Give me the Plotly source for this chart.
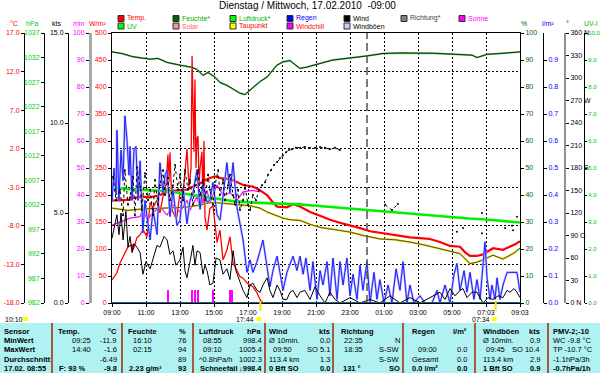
import plotly.graph_objects as go

# ---------------- data (time in hours after 09:00) ----------------
hour_ticks = list(range(0, 25, 2))
hour_labels = ["09:00", "11:00", "13:00", "15:00", "17:00", "19:00", "21:00",
               "23:00", "01:00", "03:00", "05:00", "07:03", "09:03"]

humidity = [(0, 93.0), (0.59, 92.4), (1.24, 91.2), (1.76, 90.6), (2.24, 90.3), (2.7, 90.6),
            (3.24, 89.1), (4.0, 88.1), (4.7, 87.3), (5.0, 86.5), (5.35, 84.3), (5.65, 85.4),
            (6.06, 83.6), (6.35, 81.7), (6.76, 80.6), (7.24, 78.8), (7.53, 77.7), (7.82, 77.2),
            (8.29, 79.6), (8.7, 82.0), (9.12, 83.7), (9.41, 86.0), (9.7, 88.1), (10.06, 89.3),
            (10.47, 89.8), (10.76, 88.3), (11.06, 86.9), (11.47, 87.4), (11.82, 88.1), (12.41, 89.0),
            (13.0, 90.0), (14.0, 90.7), (15.0, 91.5), (15.94, 92.4), (16.94, 92.6), (18.88, 92.5),
            (20.88, 92.0), (21.18, 91.8), (21.47, 90.9), (21.76, 91.5), (22.06, 92.1), (22.82, 92.4),
            (23.41, 92.6), (24.0, 93.0)]

pressure = [(0, 1005.2), (0.5, 1005.4), (1, 1005.2), (2, 1005.0), (3, 1004.8), (4, 1004.4),
            (5, 1003.9), (6, 1003.3), (7, 1002.8), (8, 1002.5), (9, 1002.4), (10, 1002.2),
            (11, 1002.1), (12, 1001.8), (13, 1001.5), (14, 1001.2), (15, 1000.9), (16, 1000.6),
            (17, 1000.4), (18, 1000.0), (19, 999.7), (20, 999.4), (21, 999.2), (22, 999.0),
            (23, 998.7), (24, 998.4)]

temperature = [(0, -4.7), (0.47, -4.7), (1.06, -4.6), (1.24, -4.4), (1.82, -4.2), (2.24, -4.3),
               (2.82, -4.0), (3.24, -3.6), (3.82, -3.4), (4.41, -3.3), (4.88, -2.8), (5.18, -2.5),
               (5.47, -2.1), (5.76, -1.8), (6.06, -1.6), (6.35, -1.8), (6.76, -1.9), (7.12, -2.1),
               (7.71, -2.7), (8.29, -2.9), (8.71, -3.4), (9.12, -4.0), (9.41, -4.8), (9.71, -5.5),
               (10.29, -5.6), (10.65, -5.2), (11.06, -5.5), (11.65, -6.2), (12.24, -6.7), (12.82, -7.2),
               (13.41, -7.6), (14.0, -7.9), (14.59, -8.3), (15.18, -8.7), (15.76, -8.9), (16.35, -9.1),
               (16.94, -9.3), (17.53, -9.5), (18.12, -9.6), (18.71, -9.7), (19.29, -10.1), (19.88, -10.6),
               (20.47, -10.7), (20.76, -11.4), (21.06, -11.9), (21.47, -11.9), (21.82, -11.7),
               (22.41, -10.9), (23.0, -11.1), (23.41, -10.7), (23.71, -10.4), (24.0, -10.0)]

dewpoint = [(0, -5.7), (0.94, -6.0), (1.82, -5.8), (3.24, -5.7), (4.29, -5.6), (5.18, -5.3),
            (5.76, -5.0), (6.18, -5.0), (7.12, -5.2), (8.12, -5.4), (8.71, -5.7), (9.12, -6.2),
            (9.59, -6.6), (10.06, -7.0), (10.47, -7.2), (11.06, -7.3), (11.65, -7.8), (12.24, -8.2),
            (13.12, -8.5), (14.0, -8.8), (14.88, -9.3), (15.76, -9.7), (16.65, -9.8), (17.53, -10.1),
            (18.41, -10.5), (19.29, -11.0), (19.88, -11.3), (20.47, -11.6), (21.06, -12.9),
            (21.47, -12.7), (21.82, -12.4), (22.41, -11.8), (23.0, -12.3), (23.59, -11.6), (24.0, -10.9)]

windchill = [(0, -7.9), (0.47, -7.5), (1.06, -7.0), (1.65, -6.8), (1.82, -5.7), (2.06, -7.2),
             (2.41, -6.3), (2.82, -5.5), (3.24, -6.6), (3.59, -5.3), (4.0, -6.2), (4.41, -4.7),
             (4.59, -6.0), (5.0, -4.2), (5.18, -5.7), (5.59, -3.4), (5.76, -5.0), (6.18, -2.7),
             (6.53, -4.0), (6.94, -3.7), (7.35, -4.7), (7.71, -3.6), (8.29, -3.4), (8.71, -3.6)]

solar = [(0, 43), (0.29, 56), (0.47, 74), (0.76, 93), (0.94, 104), (1.18, 108), (1.24, 98),
         (1.47, 121), (1.65, 126), (1.82, 136), (2.06, 123), (2.24, 186), (2.41, 176), (2.65, 191),
         (2.82, 167), (3.0, 198), (3.18, 220), (3.29, 275), (3.35, 223), (3.41, 279), (3.53, 173),
         (3.71, 160), (3.82, 160), (4.0, 205), (4.18, 205), (4.29, 240), (4.41, 285), (4.53, 215),
         (4.65, 250), (4.71, 458), (4.76, 335), (4.82, 280), (4.88, 414), (4.94, 250), (5.0, 305),
         (5.06, 309), (5.12, 220), (5.18, 250), (5.29, 280), (5.35, 185), (5.41, 300), (5.47, 160),
         (5.59, 135), (5.76, 175), (5.94, 180), (6.18, 112), (6.35, 135), (6.53, 80), (6.76, 98),
         (6.94, 123), (7.12, 74), (7.35, 61), (7.53, 49), (7.71, 46), (7.94, 37), (8.29, 30),
         (8.53, 19), (8.71, 6), (8.88, 0), (24, 0)]

wind = [(0, 3.6), (0.12, 4.1), (0.29, 4.9), (0.41, 3.8), (0.53, 5.0), (0.65, 3.5), (0.82, 5.1),
        (0.94, 3.1), (1.06, 3.7), (1.18, 2.8), (1.29, 3.3), (1.47, 3.1), (1.65, 2.8), (1.82, 1.6),
        (2.0, 2.3), (2.24, 1.9), (2.41, 2.5), (2.65, 3.2), (2.82, 3.1), (3.06, 3.7), (3.24, 3.5),
        (3.41, 2.7), (3.59, 2.9), (3.76, 2.1), (4.0, 2.4), (4.18, 3.1), (4.29, 1.8), (4.41, 1.4),
        (4.59, 2.3), (4.76, 3.2), (4.88, 2.1), (5.0, 2.9), (5.18, 2.8), (5.35, 1.6), (5.47, 2.1),
        (5.59, 1.8), (5.76, 1.0), (5.94, 1.1), (6.12, 2.5), (6.35, 2.4), (6.53, 1.6), (6.76, 1.9),
        (6.94, 1.3), (7.12, 2.9), (7.29, 1.8), (7.53, 1.1), (7.71, 0.7), (7.94, 0.3), (8.12, 1.0),
        (8.29, 1.1), (8.53, 0.7), (8.71, 0.6), (8.88, 1.0), (9.12, 1.4), (9.29, 0.7), (9.47, 0.3),
        (9.71, 1.0), (9.88, 0.7), (10.06, 0.2), (10.29, 0.2), (10.47, 0.6), (10.65, 0.7),
        (10.88, 0.3), (11.06, 0.6), (11.35, 0.7), (11.65, 0.2), (11.94, 0.9), (12.24, 0.4),
        (12.53, 0.0), (12.82, 0.6), (13.12, 0.2), (13.41, 0.0), (14.0, 0.3), (14.59, 0.0),
        (15.18, 0.2), (15.76, 0.0), (16.35, 0.4), (16.94, 0.0), (17.53, 0.3), (18.12, 0.0),
        (18.71, 0.3), (19.29, 0.6), (19.59, 0.2), (19.88, 0.8), (20.18, 0.4), (20.47, 0.7),
        (20.65, 0.8), (20.88, 0.3), (21.18, 0.6), (21.47, 0.6), (21.82, 0.0), (22.12, 0.3),
        (22.41, 0.2), (22.71, 0.4), (23.0, 0.3), (23.24, 0.7), (23.41, 0.6), (23.65, 0.8),
        (23.82, 0.6), (24.0, 0.3)]

gusts = [(0, 5.6), (0.12, 7.5), (0.24, 6.0), (0.29, 9.6), (0.41, 5.7), (0.53, 8.5), (0.65, 6.8),
         (0.76, 10.4), (0.88, 9.1), (1.0, 7.1), (1.06, 8.7), (1.18, 5.7), (1.29, 8.5), (1.41, 8.7),
         (1.53, 5.7), (1.65, 7.9), (1.82, 3.9), (1.94, 5.7), (2.06, 4.8), (2.24, 3.5), (2.41, 5.2),
         (2.65, 3.8), (2.82, 7.8), (3.0, 6.1), (3.12, 7.1), (3.24, 7.4), (3.41, 4.8), (3.59, 6.3),
         (3.82, 4.3), (4.0, 4.6), (4.18, 6.4), (4.41, 4.4), (4.59, 5.7), (4.76, 6.1), (5.0, 7.4),
         (5.18, 5.2), (5.35, 6.6), (5.59, 5.6), (5.76, 5.7), (5.94, 6.7), (6.18, 4.9), (6.35, 4.6),
         (6.53, 5.9), (6.76, 7.8), (6.94, 6.1), (7.12, 7.8), (7.35, 5.3), (7.53, 4.4), (7.71, 3.5),
         (7.94, 1.7), (8.12, 2.4), (8.29, 1.7), (8.53, 2.3), (8.71, 2.9), (8.88, 3.5), (9.12, 2.0),
         (9.29, 0.9), (9.47, 1.8), (9.71, 2.6), (9.88, 1.7), (10.06, 0.7), (10.29, 1.7), (10.47, 2.1),
         (10.65, 2.6), (10.88, 1.8), (11.06, 2.6), (11.24, 1.6), (11.41, 2.5), (11.65, 0.7),
         (11.82, 2.3), (12.06, 0.2), (12.24, 1.8), (12.41, 1.0), (12.65, 2.3), (12.82, 0.4),
         (13.0, 2.5), (13.24, 0.2), (13.41, 2.3), (13.59, 1.0), (13.82, 2.5), (14.0, 0.4),
         (14.18, 1.6), (14.41, 0.2), (14.59, 2.1), (14.76, 0.7), (15.0, 2.3), (15.18, 0.0),
         (15.41, 1.7), (15.59, 0.2), (15.76, 1.3), (16.0, 0.0), (16.24, 1.0), (16.47, 0.0),
         (16.71, 1.9), (16.94, 0.7), (17.12, 2.3), (17.35, 0.0), (17.53, 1.0), (17.76, 0.0),
         (18.12, 0.4), (18.41, 0.0), (18.82, 0.0), (19.12, 0.7), (19.29, 0.0), (19.59, 1.0),
         (19.88, 0.0), (20.12, 1.6), (20.29, 2.2), (20.47, 0.7), (20.71, 1.8), (20.88, 0.6),
         (21.06, 1.7), (21.29, 0.2), (21.47, 1.3), (21.65, 0.2), (21.82, 2.1), (21.94, 3.4),
         (22.06, 1.4), (22.24, 0.2), (22.35, 1.0), (22.53, 0.2), (22.65, 1.4), (22.82, 0.2),
         (23.0, 1.0), (23.24, 1.7), (23.41, 1.7), (23.59, 1.7), (23.82, 1.7), (24.0, 0.6)]

direction = [(0.06, 168), (0.24, 137), (0.47, 151), (0.65, 117), (0.76, 177), (0.94, 131), (1.06, 141),
             (1.24, 168), (1.35, 117), (1.47, 181), (1.65, 155), (1.76, 124), (1.94, 173), (2.12, 137),
             (2.24, 151), (2.41, 117), (2.53, 164), (2.71, 131), (2.82, 157), (3.0, 177), (3.12, 144),
             (3.29, 167), (3.41, 137), (3.59, 157), (3.71, 184), (3.88, 151), (4.0, 171), (4.18, 137),
             (4.29, 177), (4.47, 151), (4.59, 164), (4.76, 131), (4.88, 157), (5.06, 177), (5.18, 144),
             (5.35, 164), (5.47, 137), (5.65, 171), (5.76, 151), (5.94, 131), (6.06, 157), (6.24, 177),
             (6.35, 144), (6.53, 164), (6.65, 137), (6.82, 157), (6.94, 171), (7.12, 144), (7.24, 131),
             (7.41, 151), (7.53, 124), (7.71, 137), (7.82, 157), (8.0, 131), (8.12, 124), (8.29, 144),
             (8.47, 137), (8.65, 151), (8.82, 157), (9.0, 161), (9.18, 171), (9.35, 177), (9.53, 184),
             (9.71, 188), (9.88, 193), (10.06, 197), (10.24, 201), (10.41, 204), (10.59, 205),
             (10.82, 207), (11.06, 207), (11.35, 208), (11.65, 207), (11.94, 207), (12.24, 208),
             (12.53, 207), (12.82, 205), (13.12, 207), (13.41, 204), (None, None),
             (16.06, 131), (16.47, 124), (16.82, 132), (None, None), (20.29, 95), (None, None),
             (20.65, 100), (None, None), (21.76, 120), (None, None), (21.76, 93), (None, None),
             (23.12, 100), (None, None), (23.53, 103), (None, None), (23.59, 97), (None, None),
             (23.82, 115)]

sunshine = [(3.29, 5), (4.71, 5), (4.88, 5), (5.06, 5), (5.94, 5), (6.94, 5), (7.06, 5)]
day_span = [0, 24]
rain = [0.0, 0.0]
uv = [0.0, 0.0]
sun_base = [0, 0]

sunset_h, sunset_lbl = 8.73, "17:44"
sunrise_h, sunrise_lbl = 22.57, "07:34"
day_length = "10:10"
midnight_h = 15

title = "Dienstag / Mittwoch, 17.02.2010  -09:00"

# axis tick values / labels
degc_vals = [-18, -13, -8, -3, 2, 7, 12, 17]
hpa_vals = list(range(982, 1038, 5))
kts_vals = [0, 5, 10, 15]
min_vals = list(range(0, 101, 10))
wm2_vals = list(range(0, 501, 50))
pct_vals = list(range(0, 101, 10))
lm2_vals = [0.0, 0.1, 0.2, 0.3, 0.4, 0.5, 0.6, 0.7, 0.8, 0.9]
deg_vals = list(range(0, 361, 30))
deg_text = ["0 N", "30", "60", "90 O", "120", "150", "180 S", "210", "240", "270 W", "300", "330", "360 N"]
uv_vals = list(range(0, 11))

legend_items = [  # name, box colour, text colour, row, slot
    ("Temp.", "#ff0000", "#ff0000", 0, 0), ("Feuchte*", "#006000", "#00b000", 0, 1),
    ("Luftdruck*", "#00ff00", "#00c000", 0, 2), ("Regen", "#0000ff", "#0000ff", 0, 3),
    ("Wind", "#000000", "#000000", 0, 4), ("Richtung*", "#808080", "#404040", 0, 5),
    ("Sonne", "#ff00ff", "#ff00ff", 0, 6),
    ("UV", "#00ff00", "#00c000", 1, 0), ("Solar", "#ff9090", "#ff6060", 1, 1),
    ("Taupunkt", "#ffff00", "#ff0000", 1, 2), ("Windchill", "#ff00ff", "#ff0000", 1, 3),
    ("Windböen", "#c8c8ff", "#000000", 1, 4)]

col_sensor = ["Sensor", "MinWert", "MaxWert", "Durchschnitt", "17.02. 08:55"]
temp_left = ["Temp.", "09:25", "14:40", "", "F: 93 %"]
temp_right = ["°C", "-11.9", "-1.6", "-6.49", "-9.8"]
hum_left = ["Feuchte", "16:10", "02:15", "", "2.23 g/m³"]
hum_right = ["%", "76", "94", "89", "93"]
baro_left = ["Luftdruck", "08:55", "09:10", "^0.8hPa/h", "Schneefall"]
baro_right = ["hPa", "998.4", "1005.4", "1002.3", "↓998.4"]
wind_left = ["Wind", "Ø 10min.", "09:50", "113.4 km", "0 Bft SO"]
wind_right = ["kts", "0.0", "SO 5.1", "1.3", "0.0"]
dir_left = ["Richtung", "22:35", "18:35", "", "131 °"]
dir_right = ["", "N", "S-SW", "S-SW", "SO"]
rain_left = ["Regen", "", "09:00", "Gesamt", "0.0 l/m²"]
rain_right = ["l/m²", "", "0.0", "0.0", "0.0"]
gust_left = ["Windböen", "Ø 10min.", "09:45", "113.4 km", "1 Bft SO"]
gust_right = ["kts", "0.9", "SO 10.4", "2.9", "0.9"]
pmv_left = ["PMV-2;-10", "WC -9.8 °C", "TP -10.7 °C", "-1.1hPa/3h", "-0.7hPa/1h"]

# ---------------- layout helpers ----------------
W, H = 600, 373
X0, X1, Y0, Y1 = 112, 520, 33, 303
FONT = "Liberation Sans"


def fx(px):
    return px / W


def fy(py):
    return (Y1 - py) / (Y1 - Y0)


def xs(pairs):
    return [p[0] for p in pairs]


def ys(pairs):
    return [p[1] for p in pairs]


fig = go.Figure()


def add_line(x, y, axis, color, width, dash=None, mode="lines", msize=2):
    fig.add_trace(go.Scatter(x=x, y=y, yaxis=axis, mode=mode, connectgaps=False,
                             line=dict(color=color, width=width, dash=dash),
                             marker=dict(color=color, size=msize),
                             hoverinfo="skip", showlegend=False))


# sunshine bars (min axis)
fig.add_trace(go.Bar(x=xs(sunshine), y=ys(sunshine), yaxis="y5", width=0.07,
                     marker=dict(color="#ff00ff", line=dict(width=0)), showlegend=False, hoverinfo="skip"))
add_line(day_span, rain, "y7", "#0000ff", 1.5)
add_line(day_span, sun_base, "y5", "#ff00ff", 2)
add_line(day_span, uv, "y9", "#00c000", 1.2)
add_line(xs(direction), ys(direction), "y8", "#000000", 1, dash="dot", mode="lines+markers", msize=2)
add_line(xs(gusts), ys(gusts), "y4", "#b4b4ff", 2.2)
add_line(xs(gusts), ys(gusts), "y4", "#1010ff", 0.9)
add_line(xs(wind), ys(wind), "y4", "#000000", 1)
add_line(xs(solar), ys(solar), "y", "#ff0000", 1.3)
add_line(xs(windchill), ys(windchill), "y2", "#ff00ff", 1.2)
add_line(xs(dewpoint), ys(dewpoint), "y2", "#e0d000", 1.8)
add_line(xs(dewpoint), ys(dewpoint), "y2", "#5a4a00", 0.9)
add_line(xs(temperature), ys(temperature), "y2", "#ff0000", 2.2)
add_line(xs(pressure), ys(pressure), "y3", "#00f000", 2.6)
add_line(xs(humidity), ys(humidity), "y6", "#70c070", 1.8)
add_line(xs(humidity), ys(humidity), "y6", "#0a300a", 1.0)


def yax(rng, vals, text, color, pos=None, side="left", linecolor="black", linewidth=1, grid=False,
        main=False, size=7, ticklen=3):
    d = dict(range=rng, tickvals=vals, ticktext=text, tickmode="array",
             tickfont=dict(family=FONT, size=size, color=color),
             showline=True, linecolor=linecolor, linewidth=linewidth,
             ticks="outside", ticklen=ticklen, tickcolor="black", tickwidth=1,
             side=side, showgrid=grid, zeroline=False, fixedrange=True, domain=[0, 1])
    if grid:
        d.update(gridcolor="black", gridwidth=1, griddash="2px,2px")
    if not main:
        d["overlaying"] = "y"
    if pos is None:
        d["anchor"] = "x"
    else:
        d["anchor"] = "free"
        d["position"] = pos
    return d


layout = dict(
    width=W, height=H, paper_bgcolor="white", plot_bgcolor="white",
    margin=dict(l=0, r=0, t=Y0, b=H - Y1, autoexpand=False),
    showlegend=False, bargap=0,
    font=dict(family=FONT, size=7, color="black"),
    xaxis=dict(domain=[fx(X0), fx(X1)], range=[0, 24], tickmode="array",
               tickvals=hour_ticks, ticktext=hour_labels,
               tickfont=dict(family=FONT, size=7, color="black"),
               showline=True, mirror=True, linecolor="black", linewidth=1,
               ticks="outside", ticklen=3, tickcolor="black",
               showgrid=True, gridcolor="black", gridwidth=1, griddash="2px,2px",
               zeroline=False, fixedrange=True),
    yaxis=yax([0, 500], wm2_vals, [str(v) for v in wm2_vals], "#ff0000", main=True),
    yaxis2=yax([-18, 17], degc_vals, [f"{v:.1f}" for v in degc_vals], "#ff0000", pos=fx(24), grid=True),
    yaxis3=yax([982, 1037], hpa_vals, [str(v) for v in hpa_vals], "#00d000", pos=fx(44)),
    yaxis4=yax([0, 15], kts_vals, [f"{v:.1f}" for v in kts_vals], "#000000", pos=fx(68)),
    yaxis5=yax([0, 100], min_vals, [str(v) for v in min_vals], "#ff00ff", pos=fx(90),
               linecolor="#a8a8a8", linewidth=3),
    yaxis6=yax([0, 100], pct_vals, [str(v) for v in pct_vals], "#006400", side="right"),
    yaxis7=yax([0, 1], lm2_vals, [f"{v:.1f}" for v in lm2_vals], "#0000ff", pos=fx(543), side="right"),
    yaxis8=yax([0, 360], deg_vals, deg_text, "#000000", pos=fx(565), side="right",
               linecolor="#909090", linewidth=2),
    yaxis9=yax([0, 10], uv_vals, [f"{v:.1f}" for v in uv_vals], "#00c000", pos=fx(584), side="right",
               size=6, ticklen=2),
)
fig.update_layout(**layout)

shapes = []
annotations = []


def txt(x, y, s, color="black", size=7, anchor="left", bold=False):
    if s == "":
        return
    annotations.append(dict(x=fx(x), y=fy(y), xref="paper", yref="paper",
                            text=f"<b>{s}</b>" if bold else s, showarrow=False,
                            xanchor=anchor, yanchor="middle", borderpad=0,
                            font=dict(family=FONT, size=size, color=color)))


# title
txt(307, 6, title, size=10, anchor="center")

# axis headers
for s, x, c in [("°C", 13.5, "#ff0000"), ("hPa", 32.5, "#00d000"), ("kts", 56.5, "#000000"),
                ("min", 78.5, "#ff00ff"), ("W/m²", 97.5, "#ff0000"), ("%", 523.5, "#006400"),
                ("l/m²", 548, "#0000ff"), ("°", 567, "#000000"), ("UV-I", 591, "#00c000")]:
    txt(x, 23, s, color=c, size=7, anchor="center")

# legend
row_y = [18.5, 26]
slot_x = [121, 176, 233, 290, 347, 404, 462]
for name, box, tcol, row, slot in legend_items:
    bx, by = slot_x[slot], row_y[row]
    shapes.append(dict(type="rect", xref="paper", yref="paper",
                       x0=fx(bx - 3), x1=fx(bx + 3), y0=fy(by + 3), y1=fy(by - 3),
                       fillcolor=box, line=dict(color="#303030", width=1)))
    txt(bx + 5, by, name, color=tcol, size=7)

# midnight dashed line
shapes.append(dict(type="line", xref="x", yref="paper", x0=midnight_h, x1=midnight_h, y0=0, y1=1,
                   line=dict(color="#505050", width=1.5, dash="8px,4px")))

# sunrise / sunset markers
for h, lbl in [(sunset_h, sunset_lbl), (sunrise_h, sunrise_lbl)]:
    shapes.append(dict(type="line", xref="x", yref="paper", x0=h, x1=h, y0=fy(311), y1=fy(301),
                       line=dict(color="#ffe000", width=2)))
    px = X0 + h / 24 * (X1 - X0)
    txt(px - 5, 319, lbl, size=7, anchor="right")
    shapes.append(dict(type="rect", xref="paper", yref="paper", x0=fx(px - 4), x1=fx(px + 1),
                       y0=fy(321), y1=fy(317), fillcolor="#ffff00", line=dict(width=0)))
txt(4, 319, day_length, size=7)
shapes.append(dict(type="rect", xref="paper", yref="paper", x0=fx(23), x1=fx(28),
                   y0=fy(321), y1=fy(317), fillcolor="#ffff00", line=dict(width=0)))

# bottom table
shapes.append(dict(type="rect", xref="paper", yref="paper", x0=0, x1=1, y0=fy(374), y1=fy(323),
                   fillcolor="#b0f2f2", line=dict(width=0), layer="below"))
for sx in [52, 122, 193, 265, 333, 403, 475, 548]:
    shapes.append(dict(type="line", xref="paper", yref="paper", x0=fx(sx), x1=fx(sx),
                       y0=fy(374), y1=fy(323), line=dict(color="#a02800", width=1.5)))

row_ys = [331, 340, 349.5, 359, 368.5]
cols = [  # left texts, left x per row, right texts, right x
    (col_sensor, [3, 3, 3, 3, 3], None, None),
    (temp_left, [57, 71, 71, 71, 58], temp_right, 118),
    (hum_left, [127, 132, 132, 132, 128], hum_right, 187),
    (baro_left, [198, 202, 202, 198, 199], baro_right, 263),
    (wind_left, [268, 268, 272, 268, 268], wind_right, 331),
    (dir_left, [340, 343, 343, 343, 342], dir_right, 401),
    (rain_left, [411, 417, 417, 411, 411], rain_right, 468),
    (gust_left, [482, 482, 485, 482, 482], gust_right, 541),
    (pmv_left, [552, 552, 552, 552, 552], None, None),
]
for ci, (lefts, lx, rights, rx) in enumerate(cols):
    for r in range(5):
        bold = (r == 0 or r == 4 or ci == 0)
        txt(lx[r], row_ys[r], lefts[r], size=7.5, bold=bold)
        if rights is not None:
            txt(rx, row_ys[r], rights[r], size=7.5, anchor="right", bold=bold)

fig.update_layout(shapes=shapes, annotations=annotations)
fig.write_html("out.html", config={"displayModeBar": False},
               post_script="document.body.style.margin='0';document.body.style.overflow='hidden';")
